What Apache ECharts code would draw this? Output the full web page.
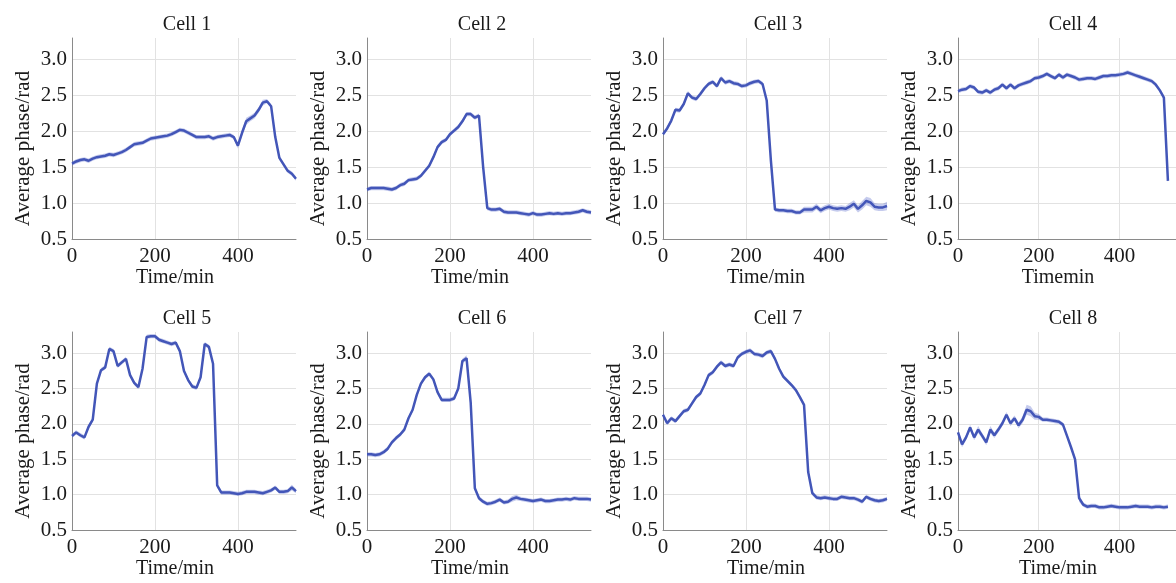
<!DOCTYPE html>
<html>
<head>
<meta charset="utf-8">
<script src="https://cdn.jsdelivr.net/npm/echarts@6/dist/echarts.min.js"></script>
<style>
  html, body { margin: 0; padding: 0; background: #fff; }
  #chart { width: 1176px; height: 583px; }
</style>
</head>
<body>
<div id="chart"></div>
<script>
// time axis, minutes (10 min steps)
const time = [0, 10, 20, 30, 40, 50, 60, 70, 80, 90,
  100, 110, 120, 130, 140, 150, 160, 170, 180, 190,
  200, 210, 220, 230, 240, 250, 260, 270, 280, 290,
  300, 310, 320, 330, 340, 350, 360, 370, 380, 390,
  400, 410, 420, 430, 440, 450, 460, 470, 480, 490,
  500, 510, 520, 530, 540];

const cellTitles = ["Cell 1", "Cell 2", "Cell 3", "Cell 4", "Cell 5", "Cell 6", "Cell 7", "Cell 8"];
const xNames = ["Time/min", "Time/min", "Time/min", "Timemin", "Time/min", "Time/min", "Time/min", "Time/min"];
const yTicks = [0.5, 1.0, 1.5, 2.0, 2.5, 3.0];

// mean phase per cell
const cell1 = [1.55, 1.58, 1.60, 1.61, 1.59, 1.62, 1.64, 1.65, 1.66, 1.68,
  1.67, 1.69, 1.71, 1.74, 1.78, 1.82, 1.83, 1.84, 1.87, 1.90,
  1.91, 1.92, 1.93, 1.94, 1.96, 1.99, 2.02, 2.01, 1.98, 1.95,
  1.92, 1.92, 1.92, 1.93, 1.90, 1.92, 1.93, 1.94, 1.95, 1.92,
  1.80, 1.98, 2.14, 2.18, 2.22, 2.30, 2.40, 2.42, 2.35, 1.92,
  1.63, 1.54, 1.45, 1.41, 1.34];
const cell2 = [1.19, 1.21, 1.21, 1.21, 1.21, 1.20, 1.19, 1.21, 1.25, 1.27,
  1.32, 1.33, 1.34, 1.38, 1.45, 1.52, 1.64, 1.78, 1.85, 1.88,
  1.96, 2.01, 2.06, 2.14, 2.24, 2.24, 2.19, 2.22, 1.50, 0.93,
  0.91, 0.91, 0.92, 0.88, 0.87, 0.87, 0.87, 0.86, 0.85, 0.84,
  0.86, 0.84, 0.84, 0.85, 0.86, 0.85, 0.86, 0.85, 0.86, 0.86,
  0.87, 0.88, 0.90, 0.88, 0.87];
const cell3 = [1.96, 2.04, 2.15, 2.30, 2.29, 2.38, 2.53, 2.47, 2.45, 2.52,
  2.60, 2.66, 2.69, 2.63, 2.74, 2.68, 2.70, 2.67, 2.66, 2.63,
  2.64, 2.67, 2.69, 2.70, 2.66, 2.43, 1.60, 0.91, 0.90, 0.90,
  0.89, 0.89, 0.87, 0.87, 0.91, 0.91, 0.91, 0.95, 0.90, 0.93,
  0.95, 0.93, 0.92, 0.93, 0.92, 0.95, 0.99, 0.92, 0.97, 1.03,
  1.01, 0.95, 0.94, 0.94, 0.96];
const cell4 = [2.56, 2.58, 2.59, 2.63, 2.61, 2.55, 2.54, 2.57, 2.54, 2.58,
  2.60, 2.65, 2.60, 2.65, 2.60, 2.64, 2.66, 2.68, 2.70, 2.74,
  2.75, 2.77, 2.80, 2.77, 2.74, 2.79, 2.75, 2.79, 2.77, 2.75,
  2.72, 2.73, 2.74, 2.74, 2.73, 2.75, 2.77, 2.77, 2.78, 2.78,
  2.79, 2.80, 2.82, 2.80, 2.78, 2.76, 2.74, 2.72, 2.70, 2.65,
  2.57, 2.47, 1.31, null, null];
const cell5 = [1.83, 1.88, 1.84, 1.81, 1.96, 2.06, 2.57, 2.76, 2.80, 3.06,
  3.03, 2.82, 2.87, 2.92, 2.69, 2.58, 2.52, 2.78, 3.23, 3.24,
  3.24, 3.19, 3.17, 3.15, 3.13, 3.15, 3.03, 2.75, 2.62, 2.53,
  2.51, 2.66, 3.13, 3.09, 2.85, 1.13, 1.03, 1.03, 1.03, 1.02,
  1.01, 1.02, 1.04, 1.04, 1.04, 1.03, 1.02, 1.04, 1.06, 1.10,
  1.04, 1.04, 1.05, 1.10, 1.05];
const cell6 = [1.57, 1.57, 1.56, 1.57, 1.60, 1.65, 1.74, 1.80, 1.85, 1.92,
  2.08, 2.20, 2.41, 2.57, 2.66, 2.71, 2.63, 2.45, 2.34, 2.34,
  2.34, 2.36, 2.50, 2.89, 2.93, 2.30, 1.09, 0.95, 0.90, 0.87,
  0.88, 0.90, 0.93, 0.89, 0.90, 0.94, 0.96, 0.94, 0.93, 0.92,
  0.91, 0.92, 0.93, 0.91, 0.91, 0.92, 0.93, 0.93, 0.94, 0.93,
  0.95, 0.94, 0.94, 0.94, 0.93];
const cell7 = [2.13, 2.01, 2.08, 2.04, 2.11, 2.18, 2.20, 2.29, 2.38, 2.43,
  2.55, 2.69, 2.73, 2.81, 2.87, 2.82, 2.84, 2.82, 2.94, 2.99,
  3.02, 3.04, 2.99, 2.98, 2.96, 3.01, 3.03, 2.92, 2.78, 2.67,
  2.61, 2.55, 2.48, 2.38, 2.27, 1.32, 1.02, 0.96, 0.95, 0.96,
  0.95, 0.94, 0.94, 0.97, 0.96, 0.95, 0.95, 0.93, 0.90, 0.97,
  0.94, 0.92, 0.91, 0.92, 0.94];
const cell8 = [1.88, 1.71, 1.81, 1.95, 1.81, 1.92, 1.83, 1.74, 1.92, 1.84,
  1.92, 2.01, 2.13, 2.01, 2.08, 1.98, 2.06, 2.20, 2.18, 2.11,
  2.10, 2.06, 2.06, 2.05, 2.04, 2.03, 1.99, 1.83, 1.67, 1.50,
  0.95, 0.86, 0.83, 0.84, 0.84, 0.82, 0.82, 0.83, 0.84, 0.83,
  0.82, 0.82, 0.82, 0.83, 0.84, 0.83, 0.83, 0.83, 0.82, 0.83,
  0.83, 0.82, 0.83, null, null];

// half width of the shaded band per cell
const cell1Err = [0.03, 0.03, 0.03, 0.03, 0.03, 0.03, 0.03, 0.03, 0.03, 0.03,
  0.03, 0.03, 0.03, 0.03, 0.03, 0.03, 0.03, 0.03, 0.03, 0.03,
  0.03, 0.03, 0.03, 0.03, 0.03, 0.03, 0.03, 0.03, 0.03, 0.03,
  0.03, 0.03, 0.03, 0.03, 0.03, 0.03, 0.03, 0.03, 0.03, 0.03,
  0.04, 0.04, 0.05, 0.04, 0.04, 0.04, 0.04, 0.03, 0.03, 0.03,
  0.03, 0.03, 0.03, 0.03, 0.03];
const cell2Err = [0.03, 0.03, 0.03, 0.03, 0.03, 0.03, 0.03, 0.03, 0.03, 0.03,
  0.03, 0.03, 0.03, 0.03, 0.03, 0.03, 0.03, 0.03, 0.03, 0.03,
  0.03, 0.03, 0.03, 0.03, 0.03, 0.03, 0.03, 0.03, 0.03, 0.03,
  0.03, 0.03, 0.03, 0.03, 0.03, 0.03, 0.03, 0.03, 0.03, 0.03,
  0.03, 0.03, 0.03, 0.03, 0.03, 0.03, 0.03, 0.03, 0.03, 0.03,
  0.03, 0.03, 0.03, 0.03, 0.03];
const cell3Err = [0.03, 0.03, 0.03, 0.03, 0.03, 0.03, 0.03, 0.03, 0.03, 0.03,
  0.03, 0.03, 0.03, 0.03, 0.03, 0.03, 0.03, 0.03, 0.03, 0.03,
  0.03, 0.03, 0.03, 0.03, 0.03, 0.03, 0.03, 0.03, 0.03, 0.03,
  0.03, 0.03, 0.03, 0.03, 0.04, 0.04, 0.04, 0.04, 0.04, 0.04,
  0.04, 0.04, 0.04, 0.04, 0.04, 0.05, 0.05, 0.05, 0.06, 0.06,
  0.06, 0.05, 0.05, 0.05, 0.06];
const cell4Err = [0.03, 0.03, 0.03, 0.03, 0.03, 0.03, 0.03, 0.03, 0.03, 0.03,
  0.03, 0.03, 0.03, 0.03, 0.03, 0.03, 0.03, 0.03, 0.03, 0.03,
  0.03, 0.03, 0.03, 0.03, 0.03, 0.03, 0.03, 0.03, 0.03, 0.03,
  0.03, 0.03, 0.03, 0.03, 0.03, 0.03, 0.03, 0.03, 0.03, 0.03,
  0.03, 0.03, 0.03, 0.03, 0.03, 0.03, 0.03, 0.03, 0.03, 0.03,
  0.03, 0.03, 0.03, null, null];
const cell5Err = [0.03, 0.03, 0.03, 0.03, 0.03, 0.03, 0.03, 0.03, 0.03, 0.03,
  0.03, 0.03, 0.03, 0.03, 0.03, 0.03, 0.03, 0.03, 0.03, 0.03,
  0.03, 0.03, 0.03, 0.03, 0.03, 0.03, 0.03, 0.03, 0.03, 0.03,
  0.03, 0.03, 0.03, 0.03, 0.03, 0.03, 0.03, 0.03, 0.03, 0.03,
  0.03, 0.03, 0.03, 0.03, 0.03, 0.03, 0.03, 0.03, 0.03, 0.03,
  0.03, 0.03, 0.03, 0.04, 0.03];
const cell6Err = [0.03, 0.03, 0.03, 0.03, 0.03, 0.03, 0.03, 0.03, 0.03, 0.03,
  0.03, 0.03, 0.03, 0.03, 0.03, 0.03, 0.03, 0.03, 0.03, 0.03,
  0.03, 0.03, 0.03, 0.03, 0.04, 0.12, 0.03, 0.03, 0.03, 0.03,
  0.03, 0.03, 0.03, 0.03, 0.03, 0.04, 0.04, 0.03, 0.03, 0.03,
  0.03, 0.03, 0.03, 0.03, 0.03, 0.03, 0.03, 0.03, 0.03, 0.03,
  0.03, 0.03, 0.03, 0.03, 0.03];
const cell7Err = [0.03, 0.03, 0.03, 0.03, 0.03, 0.03, 0.03, 0.03, 0.03, 0.03,
  0.03, 0.03, 0.03, 0.03, 0.03, 0.03, 0.03, 0.03, 0.03, 0.03,
  0.03, 0.03, 0.03, 0.03, 0.03, 0.03, 0.03, 0.03, 0.03, 0.03,
  0.03, 0.03, 0.03, 0.03, 0.03, 0.03, 0.03, 0.03, 0.03, 0.03,
  0.03, 0.03, 0.03, 0.03, 0.03, 0.03, 0.03, 0.03, 0.03, 0.03,
  0.03, 0.03, 0.03, 0.03, 0.03];
const cell8Err = [0.05, 0.04, 0.04, 0.04, 0.04, 0.05, 0.04, 0.04, 0.05, 0.04,
  0.04, 0.04, 0.04, 0.04, 0.04, 0.04, 0.05, 0.07, 0.07, 0.05,
  0.04, 0.03, 0.03, 0.03, 0.03, 0.03, 0.03, 0.03, 0.03, 0.04,
  0.05, 0.03, 0.03, 0.03, 0.03, 0.03, 0.03, 0.03, 0.03, 0.03,
  0.03, 0.03, 0.03, 0.03, 0.03, 0.03, 0.03, 0.03, 0.03, 0.03,
  0.03, 0.03, 0.03, null, null];

const cells = [cell1, cell2, cell3, cell4, cell5, cell6, cell7, cell8];
const errs = [cell1Err, cell2Err, cell3Err, cell4Err, cell5Err, cell6Err, cell7Err, cell8Err];

const FONT = "Liberation Serif";
const lineColor = "#4356b8";
const bandColor = "rgba(95,110,205,0.36)";
const gridColor = "#e2e2e2";

// panel layout in pixels
const lefts = [72, 367, 663, 958];
const tops = [38, 332];
const heights = [201, 198];
const panelW = 224;

// shaded band drawn as one polygon through the axis scales
function bandRenderer(rows) {
  return function (params, api) {
    if (params.dataIndex !== 0) return;
    var upper = [], lower = [];
    for (var k = 0; k < rows.length; k++) {
      if (rows[k][1] == null) continue;
      upper.push(api.coord([rows[k][0], rows[k][2]]));
      lower.push(api.coord([rows[k][0], rows[k][1]]));
    }
    return {
      type: "polygon",
      shape: { points: upper.concat(lower.reverse()) },
      style: { fill: bandColor, stroke: null },
      silent: true,
    };
  };
}

var grids = [], xAxes = [], yAxes = [], titles = [], series = [];

for (let i = 0; i < 8; i++) {
  const col = i % 4;
  const row = Math.floor(i / 4);
  const left = lefts[col];
  const top = tops[row];
  grids.push({
    left: left,
    top: top,
    width: panelW,
    height: heights[row],
  });
  titles.push({
    text: cellTitles[i],
    left: left + panelW / 2 - 2,
    top: top - 28,
    textAlign: "center",
    textStyle: { fontFamily: FONT, fontSize: 20, fontWeight: "normal", color: "#1a1a1a" },
  });
  xAxes.push({
    type: "value",
    gridIndex: i,
    min: 0,
    max: 540,
    interval: 200,
    name: xNames[i],
    nameLocation: "middle",
    nameGap: 29,
    nameTextStyle: { fontFamily: FONT, fontSize: 20, color: "#1a1a1a", padding: [0, 18, 0, 0] },
    axisLine: { show: true, lineStyle: { color: "#8a8a8a", width: 1 } },
    axisTick: { show: false },
    axisLabel: {
      fontFamily: FONT,
      fontSize: 21,
      color: "#1a1a1a",
      margin: 7,
      showMaxLabel: false,
    },
    splitLine: {
      show: true,
      lineStyle: { color: ["transparent", gridColor, gridColor, "transparent"], width: 1 },
    },
  });
  yAxes.push({
    type: "value",
    gridIndex: i,
    min: 0.5,
    max: 3.3,
    interval: 0.5,
    name: "Average phase/rad",
    nameLocation: "middle",
    nameGap: 38,
    nameTextStyle: { fontFamily: FONT, fontSize: 21, color: "#1a1a1a", padding: [0, 20, 0, 0] },
    axisLine: { show: true, lineStyle: { color: "#8a8a8a", width: 1 } },
    axisTick: { show: false },
    axisLabel: {
      fontFamily: FONT,
      fontSize: 21,
      color: "#1a1a1a",
      margin: 5,
      showMaxLabel: false,
      formatter: function (v) {
        return yTicks.indexOf(Math.round(v * 10) / 10) >= 0 ? v.toFixed(1) : "";
      },
    },
    splitLine: {
      show: true,
      lineStyle: {
        color: ["transparent", gridColor, gridColor, gridColor, gridColor, gridColor, "transparent"],
        width: 1,
      },
    },
  });

  const mean = cells[i];
  const err = errs[i];
  const bandRows = time.map((t, k) =>
    mean[k] == null ? [t, null, null] : [t, +(mean[k] - err[k]).toFixed(3), +(mean[k] + err[k]).toFixed(3)]
  );
  const line = time.map((t, k) => [t, mean[k]]);

  series.push({
    type: "custom",
    xAxisIndex: i,
    yAxisIndex: i,
    data: bandRows,
    encode: { x: 0, y: [1, 2] },
    renderItem: bandRenderer(bandRows),
    clip: true,
    silent: true,
    z: 1,
  });
  series.push({
    name: cellTitles[i],
    type: "line",
    xAxisIndex: i,
    yAxisIndex: i,
    data: line,
    symbol: "none",
    z: 2,
    lineStyle: { color: lineColor, width: 2.5 },
  });
}

var chart = echarts.init(document.getElementById("chart"));
var option = {
  animation: false,
  backgroundColor: "#ffffff",
  title: titles,
  grid: grids,
  xAxis: xAxes,
  yAxis: yAxes,
  series: series,
};
chart.setOption(option);
</script>
</body>
</html>
